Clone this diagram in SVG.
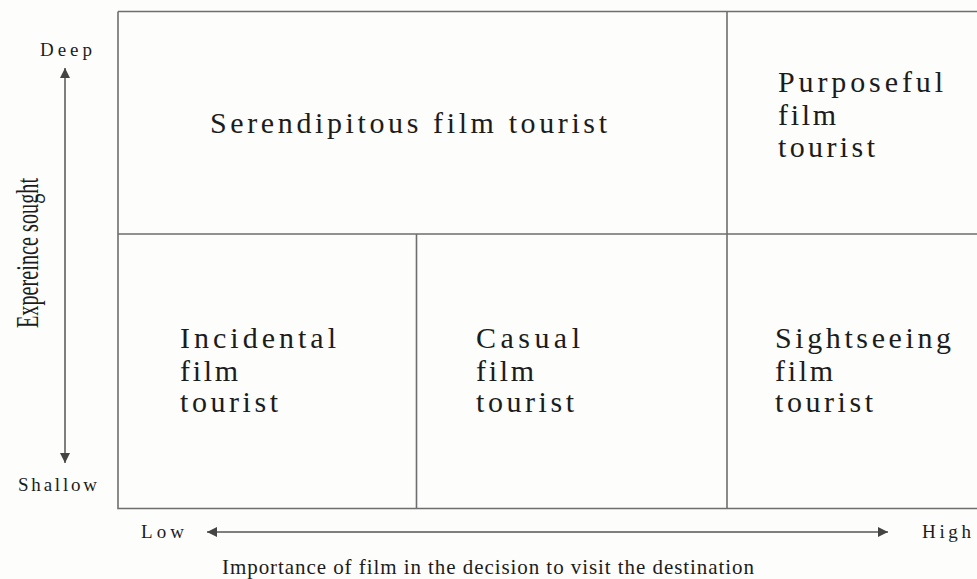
<svg xmlns="http://www.w3.org/2000/svg" width="977" height="579" viewBox="0 0 977 579">
<style>
.ln{stroke:#6e6e6e;stroke-width:1.6;fill:none}
.ax{stroke:#555;stroke-width:1.5;fill:none}
.t{font-family:"Liberation Serif","Times New Roman",serif;fill:#1c1c1c}
.big{font-size:30px}
.sm{font-size:19px}
</style>
<defs>
<marker id="ah" viewBox="0 0 10 10" refX="10" refY="5" markerWidth="10" markerHeight="10" markerUnits="userSpaceOnUse" orient="auto-start-reverse">
<path d="M0,0 L10,5 L0,10 z" fill="#444"/>
</marker>
</defs>
<rect width="977" height="579" fill="#fdfdfb"/>
<g id="grid">
<path class="ln" d="M118,11.5 H977 M118,11.5 V508.5 H977 M118,234 H977 M727,11.5 V508.5 M416.5,234 V508.5"/>
</g>
<g id="serendipitous"><text class="t big" x="210" y="133" textLength="397" lengthAdjust="spacing">Serendipitous film tourist</text></g>
<g id="purposeful">
<text class="t big" x="778" y="92" textLength="165" lengthAdjust="spacing">Purposeful</text>
<text class="t big" x="778" y="125" textLength="58" lengthAdjust="spacing">film</text>
<text class="t big" x="778" y="157" textLength="97" lengthAdjust="spacing">tourist</text>
</g>
<g id="incidental">
<text class="t big" x="180" y="348" textLength="156" lengthAdjust="spacing">Incidental</text>
<text class="t big" x="180" y="381" textLength="58" lengthAdjust="spacing">film</text>
<text class="t big" x="180" y="412" textLength="98" lengthAdjust="spacing">tourist</text>
</g>
<g id="casual">
<text class="t big" x="476" y="348" textLength="104" lengthAdjust="spacing">Casual</text>
<text class="t big" x="476" y="381" textLength="58" lengthAdjust="spacing">film</text>
<text class="t big" x="476" y="412" textLength="98" lengthAdjust="spacing">tourist</text>
</g>
<g id="sightseeing">
<text class="t big" x="775" y="348" textLength="176" lengthAdjust="spacing">Sightseeing</text>
<text class="t big" x="775" y="381" textLength="58" lengthAdjust="spacing">film</text>
<text class="t big" x="775" y="412" textLength="98" lengthAdjust="spacing">tourist</text>
</g>
<g id="connectors">
<line class="ax" x1="65" y1="463" x2="65" y2="68" marker-start="url(#ah)" marker-end="url(#ah)"/>
<line class="ax" x1="207" y1="532" x2="888" y2="532" marker-start="url(#ah)" marker-end="url(#ah)"/>
</g>
<g id="labels">
<text class="t sm" x="40" y="56" textLength="52" lengthAdjust="spacing">Deep</text>
<text class="t sm" x="18" y="491" textLength="79" lengthAdjust="spacing">Shallow</text>
<text class="t sm" x="141" y="538" textLength="43" lengthAdjust="spacing">Low</text>
<text class="t sm" x="922" y="538" textLength="49" lengthAdjust="spacing">High</text>
<text class="t" font-size="21" x="222" y="574" textLength="532" lengthAdjust="spacing">Importance of film in the decision to visit the destination</text>
<text class="t" font-size="32" transform="translate(38,328) rotate(-90)" textLength="150" lengthAdjust="spacingAndGlyphs">Expereince sought</text>
</g>
</svg>
